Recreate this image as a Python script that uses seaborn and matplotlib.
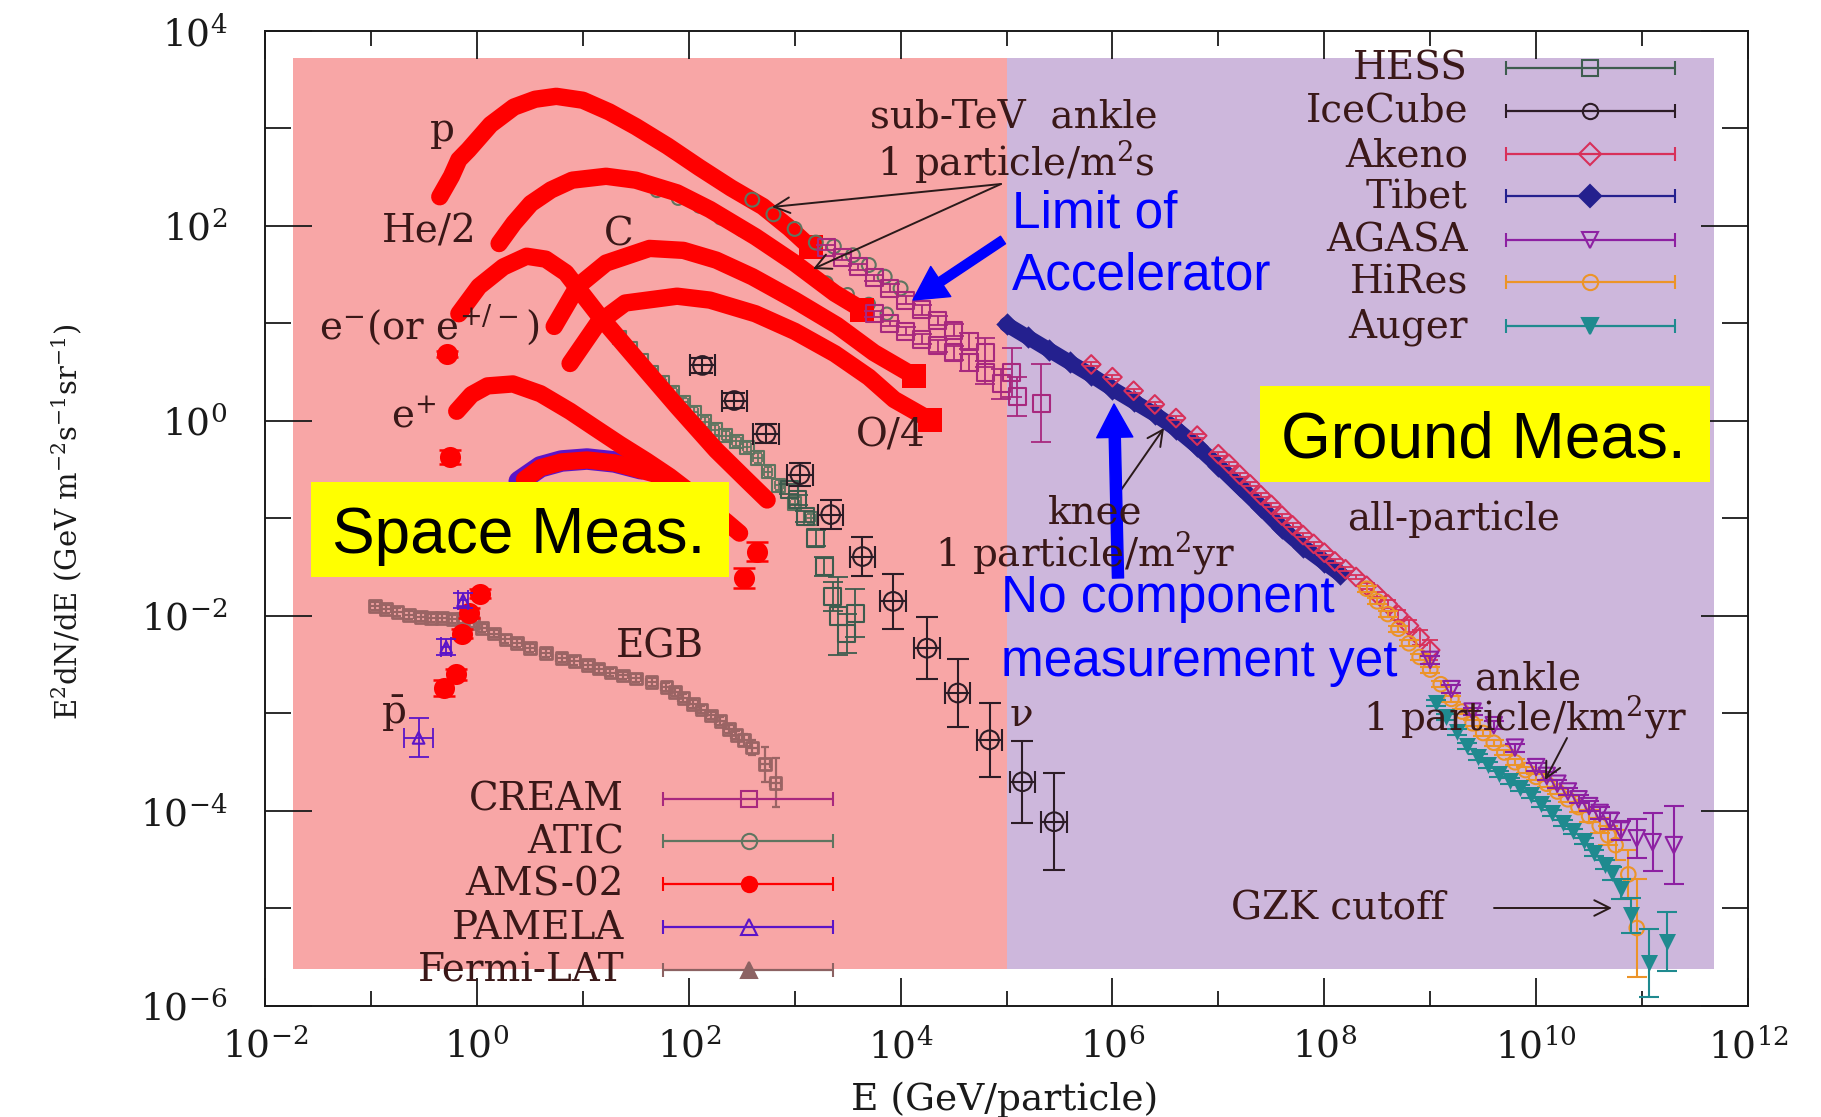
import numpy as np
import pandas as pd
import seaborn as sns
import matplotlib
matplotlib.use("Agg")
import matplotlib.pyplot as plt
from matplotlib.patches import Rectangle, FancyArrowPatch, ArrowStyle
from matplotlib.ticker import FixedLocator, FuncFormatter, NullFormatter

# ---------------- data: log10 E (GeV) and log10 E^2 dN/dE ----------------
# AMS-02 (dense bands)
ams_p_logE = [-0.35, -0.24, -0.17, -0.08, 0.13, 0.35, 0.55, 0.75, 1.0, 1.25, 1.5, 1.8, 2.1, 2.4, 2.7, 2.95, 3.15]
ams_p_logF = [2.30, 2.51, 2.68, 2.78, 3.04, 3.22, 3.30, 3.33, 3.29, 3.17, 3.02, 2.82, 2.60, 2.39, 2.20, 1.98, 1.78]
ams_he_logE = [0.21, 0.35, 0.51, 0.70, 0.90, 1.22, 1.50, 1.89, 2.20, 2.63, 3.00, 3.38, 3.64]
ams_he_logF = [1.82, 2.03, 2.23, 2.37, 2.47, 2.51, 2.47, 2.34, 2.17, 1.89, 1.62, 1.31, 1.14]
ams_c_logE = [0.73, 0.95, 1.22, 1.63, 1.95, 2.26, 2.60, 3.00, 3.40, 3.75, 4.13]
ams_c_logF = [0.97, 1.38, 1.62, 1.77, 1.75, 1.65, 1.48, 1.24, 0.98, 0.70, 0.46]
ams_o_logE = [0.88, 1.14, 1.40, 1.89, 2.20, 2.63, 3.00, 3.38, 3.70, 3.94, 4.28]
ams_o_logF = [0.59, 1.00, 1.21, 1.28, 1.24, 1.10, 0.92, 0.69, 0.45, 0.22, 0.01]
ams_em_logE = [-0.17, 0.02, 0.25, 0.47, 0.65, 0.84, 1.14, 1.51, 1.89, 2.26, 2.56, 2.74]
ams_em_logF = [1.10, 1.38, 1.58, 1.69, 1.66, 1.52, 1.10, 0.63, 0.15, -0.30, -0.62, -0.81]
ams_ep_logE = [-0.19, -0.05, 0.10, 0.34, 0.60, 0.88, 1.10, 1.35, 1.60, 1.82, 2.00, 2.20, 2.35, 2.48]
ams_ep_logF = [0.10, 0.27, 0.36, 0.38, 0.28, 0.10, -0.06, -0.24, -0.41, -0.57, -0.72, -0.91, -1.03, -1.15]
ams_pbar_logE = [0.45, 0.60, 0.80, 1.04, 1.30, 1.67, 2.00, 2.30]
ams_pbar_logF = [-0.60, -0.48, -0.42, -0.40, -0.43, -0.54, -0.72, -0.95]
# AMS-02 isolated points
ams_pts_logE = [-0.28, -0.25, -0.31, -0.20, -0.14, -0.07, 0.03, 2.52, 2.64]
ams_pts_logF = [0.69, -0.37, -2.74, -2.60, -2.18, -1.97, -1.77, -1.61, -1.34]
ams_pts_err = [0.03, 0.07, 0.08, 0.06, 0.05, 0.05, 0.05, 0.10, 0.10]

# PAMELA
pamela_pbar_logE = [0.40, 0.60, 0.80, 1.04, 1.30, 1.55]
pamela_pbar_logF = [-0.62, -0.47, -0.41, -0.39, -0.42, -0.49]
pamela_pts_logE = [-0.55, -0.29, -0.13]
pamela_pts_logF = [-3.25, -2.32, -1.84]
pamela_pts_err = [0.20, 0.08, 0.08]
pamela_pts_xerr = [0.14, 0.05, 0.05]

# Fermi-LAT extragalactic gamma background
egb_logE = [-0.96, -0.86, -0.75, -0.64, -0.53, -0.43, -0.33, -0.23, -0.13, -0.03, 0.05, 0.16, 0.27, 0.38,
            0.50, 0.65, 0.80, 0.92, 1.05, 1.15, 1.26, 1.38, 1.50, 1.65, 1.79, 1.87, 1.95, 2.04, 2.12,
            2.21, 2.30, 2.38, 2.45, 2.52, 2.60, 2.72, 2.82]
egb_logF = [-1.90, -1.93, -1.96, -1.99, -2.01, -2.02, -2.02, -2.03, -2.03, -2.07, -2.12, -2.18, -2.24, -2.28,
            -2.33, -2.38, -2.43, -2.46, -2.50, -2.54, -2.58, -2.61, -2.64, -2.68, -2.73, -2.78, -2.84, -2.90,
            -2.96, -3.02, -3.08, -3.16, -3.22, -3.27, -3.35, -3.52, -3.71]
egb_err = [0.04] * 33 + [0.06, 0.08, 0.18, 0.25]

# ATIC
atic_p_logE = [2.6, 2.8, 3.0, 3.2, 3.37, 3.55, 3.7, 3.85, 4.0]
atic_p_logF = [2.27, 2.12, 1.97, 1.83, 1.79, 1.70, 1.60, 1.48, 1.36]
atic_he_logE = [1.7, 1.9, 2.1, 2.3, 2.5, 2.7, 2.9, 3.1, 3.3, 3.5, 3.7, 3.87]
atic_he_logF = [2.36, 2.28, 2.20, 2.08, 1.96, 1.83, 1.70, 1.55, 1.42, 1.30, 1.20, 1.10]
ee_logE = [1.35, 1.45, 1.55, 1.65, 1.75, 1.85, 1.95, 2.05, 2.15, 2.25, 2.35, 2.45, 2.55, 2.65, 2.75, 2.85, 3.0, 3.15]
ee_logF = [0.86, 0.74, 0.62, 0.50, 0.39, 0.29, 0.19, 0.09, -0.01, -0.09, -0.15, -0.21, -0.27, -0.38, -0.52, -0.66, -0.85, -1.00]

# CREAM
cream_p_logE = [3.3, 3.45, 3.6, 3.75, 3.9, 4.05, 4.2, 4.35, 4.5, 4.65, 4.8, 5.05, 5.33]
cream_p_logF = [1.78, 1.68, 1.58, 1.47, 1.36, 1.24, 1.14, 1.03, 0.93, 0.82, 0.70, 0.50, 0.18]
cream_p_err = [0.03, 0.03, 0.03, 0.03, 0.04, 0.04, 0.05, 0.05, 0.06, 0.08, 0.15, 0.25, 0.40]
cream_he_logE = [3.75, 3.9, 4.05, 4.2, 4.35, 4.5, 4.65, 4.8, 4.95, 5.1]
cream_he_logF = [1.10, 1.00, 0.92, 0.84, 0.77, 0.70, 0.60, 0.50, 0.38, 0.25]
cream_he_err = [0.03, 0.03, 0.04, 0.05, 0.06, 0.07, 0.09, 0.12, 0.15, 0.20]

# HESS electrons
hess_logE = [2.95, 3.03, 3.10, 3.20, 3.28, 3.36, 3.41, 3.49, 3.57]
hess_logF = [-0.70, -0.81, -0.98, -1.20, -1.49, -1.80, -2.00, -2.18, -1.97]
hess_err = [0.05, 0.05, 0.06, 0.08, 0.10, 0.15, 0.40, 0.20, 0.25]

# IceCube neutrinos
icecube_logE = [2.13, 2.43, 2.73, 3.05, 3.34, 3.64, 3.93, 4.25, 4.54, 4.84, 5.15, 5.45]
icecube_logF = [0.57, 0.21, -0.13, -0.55, -0.96, -1.39, -1.85, -2.33, -2.79, -3.27, -3.70, -4.11]
icecube_err = [0.08, 0.08, 0.10, 0.12, 0.15, 0.20, 0.28, 0.32, 0.35, 0.38, 0.42, 0.50]
icecube_xerr = [0.12] * 12

# Ground based
tibet_logE = [5.0, 5.2, 5.4, 5.6, 5.8, 6.0, 6.2, 6.4, 6.6, 6.8, 7.0, 7.2, 7.4, 7.6, 7.8, 8.0, 8.15]
tibet_logF = [0.99, 0.86, 0.73, 0.60, 0.47, 0.33, 0.20, 0.07, -0.08, -0.26, -0.46, -0.67, -0.88, -1.10, -1.29, -1.45, -1.57]
akeno_logE = [5.8, 6.0, 6.2, 6.4, 6.6, 6.8, 7.0, 7.1, 7.2, 7.3, 7.4, 7.5, 7.6, 7.7, 7.8, 7.9, 8.0, 8.1, 8.2,
              8.3, 8.4, 8.5, 8.6, 8.7, 8.8, 8.9, 9.0]
akeno_logF = [0.58, 0.45, 0.31, 0.17, 0.03, -0.15, -0.34, -0.44, -0.55, -0.65, -0.76, -0.86, -0.97, -1.07, -1.17,
              -1.26, -1.35, -1.44, -1.52, -1.60, -1.69, -1.78, -1.88, -1.99, -2.10, -2.22, -2.35]
akeno_err = [0.02] * 20 + [0.03, 0.03, 0.04, 0.05, 0.06, 0.08, 0.10]
hires_logE = [8.4, 8.5, 8.6, 8.7, 8.8, 8.9, 9.0, 9.1, 9.2, 9.3, 9.4, 9.5, 9.6, 9.7, 9.8, 9.9, 10.0, 10.1, 10.2,
              10.3, 10.4, 10.5, 10.6, 10.68, 10.75, 10.87, 10.95]
hires_logF = [-1.72, -1.85, -1.98, -2.13, -2.28, -2.42, -2.55, -2.70, -2.85, -2.98, -3.10, -3.20, -3.30, -3.40,
              -3.50, -3.58, -3.65, -3.72, -3.80, -3.88, -3.96, -4.05, -4.15, -4.25, -4.35, -4.65, -5.20]
hires_err = [0.03] * 20 + [0.05, 0.06, 0.08, 0.10, 0.15, 0.25, 0.50]
auger_logE = [9.05, 9.15, 9.25, 9.35, 9.45, 9.55, 9.65, 9.75, 9.85, 9.95, 10.05, 10.15, 10.25, 10.35, 10.45,
              10.55, 10.65, 10.72, 10.8, 10.9, 11.07, 11.24]
auger_logF = [-2.89, -3.04, -3.19, -3.33, -3.45, -3.53, -3.62, -3.69, -3.76, -3.84, -3.93, -4.02, -4.12,
              -4.21, -4.31, -4.43, -4.55, -4.64, -4.80, -5.07, -5.56, -5.34]
auger_err = [0.03] * 16 + [0.05, 0.07, 0.10, 0.18, 0.35, 0.30]
agasa_logE = [9.0, 9.2, 9.4, 9.6, 9.8, 10.0, 10.1, 10.2, 10.3, 10.4, 10.5, 10.6, 10.7, 10.8, 10.95, 11.1, 11.3]
agasa_logF = [-2.45, -2.75, -2.98, -3.12, -3.35, -3.55, -3.64, -3.72, -3.80, -3.88, -3.95, -4.02, -4.10,
              -4.20, -4.28, -4.32, -4.35]
agasa_err = [0.04] * 10 + [0.05, 0.06, 0.08, 0.10, 0.20, 0.30, 0.40]

# ---------------- figure ----------------
sns.set_theme(style="ticks")
plt.rcParams["font.family"] = ["DejaVu Serif"]
plt.rcParams["mathtext.fontset"] = "dejavuserif"

W, H = 1821, 1117
fig = plt.figure(figsize=(W / 100, H / 100), dpi=100)
fig.patch.set_facecolor("white")
L, R, T, B = 265, 1748, 31, 1006
ax = fig.add_axes([L / W, 1 - B / H, (R - L) / W, (B - T) / H])
ax.set_facecolor("white")
ax.set_xscale("log")
ax.set_yscale("log")
ax.set_xlim(1e-2, 1e12)
ax.set_ylim(1e-6, 1e4)

TXT = "#3a1818"

# background regions
ax.add_patch(Rectangle((10 ** -1.736, 10 ** -5.618), 1e5 - 10 ** -1.736, 10 ** 3.724 - 10 ** -5.618,
                       facecolor="#f8a6a6", edgecolor="none", zorder=0.5))
ax.add_patch(Rectangle((1e5, 10 ** -5.618), 10 ** 11.68 - 1e5, 10 ** 3.724 - 10 ** -5.618,
                       facecolor="#cdb7dc", edgecolor="none", zorder=0.5))


def lin(a):
    return 10 ** np.asarray(a, dtype=float)


def dex(logF, err):
    lf = np.asarray(logF, dtype=float)
    e = np.asarray(err, dtype=float)
    return np.vstack([10 ** lf - 10 ** (lf - e), 10 ** (lf + e) - 10 ** lf])


def band(logE, logF, color, lw, z=3):
    sns.lineplot(x=lin(logE), y=lin(logF), ax=ax, color=color, lw=lw, sort=False,
                 estimator=None, solid_capstyle="round", solid_joinstyle="round", zorder=z)


def points(logE, logF, color, marker, s, filled=False, err=None, xerr=None, z=4, cap=4, elw=1.3, mlw=1.5):
    x, y = lin(logE), lin(logF)
    if err is not None or xerr is not None:
        ye = dex(logF, err) if err is not None else None
        xe = dex(logE, xerr) if xerr is not None else None
        ax.errorbar(x, y, yerr=ye, xerr=xe, fmt="none", ecolor=color, elinewidth=elw,
                    capsize=cap, capthick=elw, zorder=z)
    if filled:
        sns.scatterplot(x=x, y=y, ax=ax, color=color, marker=marker, s=s, linewidth=0, zorder=z + 0.1)
    else:
        sns.scatterplot(x=x, y=y, ax=ax, color=color, marker=marker, s=s, facecolors="none",
                        edgecolors=color, linewidth=mlw, zorder=z + 0.1)


C_CREAM, C_ATIC, C_AMS, C_PAM, C_FERMI = "#a8287e", "#5f7560", "#ff0000", "#5b14c8", "#8c6262"
C_EGB = "#9a6464"
C_HESS, C_ICE, C_AKENO, C_TIBET = "#3d5c4e", "#2c1c26", "#d8305a", "#24208e"
C_AGASA, C_HIRES, C_AUGER = "#8d20a2", "#ec9428", "#1f8a8f"

# space measurements
points(atic_he_logE, atic_he_logF, C_ATIC, "o", 80, z=2.5)
points(ee_logE, ee_logF, C_ATIC, "s", 90, err=[0.05] * 18, xerr=[0.04] * 18, z=2.5, cap=3)
points(egb_logE, egb_logF, C_EGB, "s", 70, err=egb_err, xerr=[0.05] * 37, z=2.5, cap=3, elw=1.6, mlw=2)
band(pamela_pbar_logE, pamela_pbar_logF, C_PAM, 15.5, z=2.8)
for lE, lF in [(ams_p_logE, ams_p_logF), (ams_he_logE, ams_he_logF), (ams_c_logE, ams_c_logF),
               (ams_o_logE, ams_o_logF), (ams_em_logE, ams_em_logF), (ams_ep_logE, ams_ep_logF),
               (ams_pbar_logE, ams_pbar_logF)]:
    band(lE, lF, C_AMS, 12.5)
sns.scatterplot(x=lin([ams_p_logE[-1], ams_he_logE[-1], ams_c_logE[-1], ams_o_logE[-1]]),
                y=lin([ams_p_logF[-1], ams_he_logF[-1], ams_c_logF[-1], ams_o_logF[-1]]),
                ax=ax, color=C_AMS, marker="s", s=300, linewidth=0, zorder=3.2)
points(ams_pts_logE, ams_pts_logF, C_AMS, "o", 230, filled=True, err=ams_pts_err, z=3.3, cap=8, elw=1.8)
points(pamela_pts_logE, pamela_pts_logF, C_PAM, "^", 70, err=pamela_pts_err, xerr=pamela_pts_xerr, z=3.4, cap=7)
points(atic_p_logE, atic_p_logF, C_ATIC, "o", 100, z=3.5)
points(cream_he_logE, cream_he_logF, C_CREAM, "s", 150, err=cream_he_err, z=3.6, cap=7)
points(cream_p_logE, cream_p_logF, C_CREAM, "s", 150, err=cream_p_err, z=3.6, cap=7)
points(hess_logE, hess_logF, C_HESS, "s", 150, err=hess_err, z=3.6, cap=7)
points(icecube_logE, icecube_logF, C_ICE, "o", 180, err=icecube_err, xerr=icecube_xerr, z=3.7, cap=8, elw=1.5)

# ground measurements
band(tibet_logE, tibet_logF, C_TIBET, 11, z=3.8)
points(tibet_logE, tibet_logF, C_TIBET, "D", 130, filled=True, z=3.8)
points(akeno_logE, akeno_logF, C_AKENO, "D", 90, err=akeno_err, z=3.9, cap=6)
points(hires_logE, hires_logF, C_HIRES, "o", 110, err=hires_err, z=4.0, cap=7, elw=1.5)
points(agasa_logE, agasa_logF, C_AGASA, "v", 140, err=agasa_err, z=4.1, cap=7, elw=1.5)
points(auger_logE, auger_logF, C_AUGER, "v", 150, filled=True, err=auger_err, z=4.2, cap=7, elw=1.5)

# axes styling
ax.xaxis.set_major_locator(FixedLocator(10.0 ** np.arange(-2, 13, 2)))
ax.xaxis.set_minor_locator(FixedLocator(10.0 ** np.arange(-1, 12, 2)))
ax.yaxis.set_major_locator(FixedLocator(10.0 ** np.arange(-6, 5, 2)))
ax.yaxis.set_minor_locator(FixedLocator(10.0 ** np.arange(-5, 4, 2)))
fmt = FuncFormatter(lambda v, p: r"$\mathregular{10^{%d}}$" % int(round(np.log10(v))))
ax.xaxis.set_major_formatter(fmt)
ax.yaxis.set_major_formatter(fmt)
ax.xaxis.set_minor_formatter(NullFormatter())
ax.yaxis.set_minor_formatter(NullFormatter())
ax.tick_params(which="both", direction="in", top=True, right=True, colors="#1a1a1a", width=1.3)
ax.tick_params(axis="x", which="major", length=20, pad=16, labelsize=27)
ax.tick_params(axis="x", which="minor", length=11)
ax.tick_params(axis="y", which="major", length=34, pad=27, labelsize=27)
ax.tick_params(axis="y", which="minor", length=19)
for s in ax.spines.values():
    s.set_linewidth(1.4)
    s.set_color("#1a1a1a")
ax.set_xlabel("E (GeV/particle)", fontsize=27, color="#1a1a1a")
ax.xaxis.set_label_coords((1004.6 - L) / (R - L), (B - 1082) / (B - T))
ax.set_ylabel(r"E$^{2}$dN/dE (GeV m$^{-2}$s$^{-1}$sr$^{-1}$)", fontsize=21, color="#1a1a1a")
ax.yaxis.set_label_coords((84 - L) / (R - L), (B - 522) / (B - T))

# ---------------- overlay in reference pixel coordinates ----------------
ov = fig.add_axes([0, 0, 1, 1])
ov.set_xlim(0, W)
ov.set_ylim(H, 0)
ov.axis("off")
ov.patch.set_alpha(0)
ov.set_zorder(5)

labels = [
    ("p", 442, 141), ("He/2", 429, 243), ("C", 619, 246),
    (r"e$^{-}$(or e$^{+/-}$)", 429, 338), (r"e$^{+}$", 414, 427), ("O/4", 891, 447),
    ("sub-TeV  ankle", 1014, 127), (r"1 particle/m$^{2}$s", 1016, 175),
    ("knee", 1095, 524), (r"1 particle/m$^{2}$yr", 1085, 566), ("all-particle", 1454, 530),
    ("EGB", 660, 657), (r"$\bar{\mathrm{p}}$", 393, 724), ("ν", 1021, 726),
    ("ankle", 1528, 689), (r"1 particle/km$^{2}$yr", 1525, 730), ("GZK cutoff", 1338, 919),
]
for s, x, y in labels:
    ov.text(x, y, s, ha="center", va="baseline", fontsize=28, color=TXT)

thin = dict(arrowstyle="->", color="#2a1a1a", lw=1.4, mutation_scale=28, shrinkA=0, shrinkB=0)
for (x0, y0), (x1, y1) in [((1001, 184), (772, 207)), ((1001, 184), (813, 269)),
                           ((1121, 490), (1164, 428)), ((1567, 738), (1545, 780)),
                           ((1494, 908), (1612, 908))]:
    ov.add_patch(FancyArrowPatch((x0, y0), (x1, y1), **thin))

# legends
left_leg = [("CREAM", C_CREAM, "s", False), ("ATIC", C_ATIC, "o", False), ("AMS-02", C_AMS, "o", True),
            ("PAMELA", C_PAM, "^", False), ("Fermi-LAT", C_FERMI, "^", True)]
left_y = [798.7, 841, 884, 927, 970]
right_leg = [("HESS", C_HESS, "s", False), ("IceCube", C_ICE, "o", False), ("Akeno", C_AKENO, "D", False),
             ("Tibet", C_TIBET, "D", True), ("AGASA", C_AGASA, "v", False), ("HiRes", C_HIRES, "o", False),
             ("Auger", C_AUGER, "v", True)]
right_y = [67.9, 110.7, 154.3, 196.4, 240, 282, 325.7]


def legend(entries, ys, xr, x0, xm, x1):
    for (name, c, m, filled), yc in zip(entries, ys):
        ov.text(xr, yc + 12, name, ha="right", va="baseline", fontsize=28, color=TXT)
        ov.errorbar([xm], [yc], xerr=[[xm - x0], [x1 - xm]], fmt=m, color=c, ms=11,
                    mfc=c if filled else "none", mec=c, mew=1.5, elinewidth=1.6,
                    capsize=5, capthick=1.6)


legend(left_leg, left_y, 624, 663, 749, 833)
legend(right_leg, right_y, 1468, 1506, 1590, 1675)

# yellow boxes
SANS = ["Liberation Sans", "DejaVu Sans"]
ov.add_patch(Rectangle((311, 482), 418, 95, facecolor="#ffff00", edgecolor="none"))
ov.text(519, 553, "Space Meas.", ha="center", va="baseline", fontsize=46, color="black", family=SANS)
ov.add_patch(Rectangle((1260, 386), 450, 96, facecolor="#ffff00", edgecolor="none"))
ov.text(1483, 457, "Ground Meas.", ha="center", va="baseline", fontsize=46, color="black", family=SANS)

# blue annotations
BLUE = "#0000ff"
ov.text(1012, 227, "Limit of", ha="left", va="baseline", fontsize=37, color=BLUE, family=SANS)
ov.text(1012, 289, "Accelerator", ha="left", va="baseline", fontsize=37, color=BLUE, family=SANS)
ov.text(1001, 612, "No component", ha="left", va="baseline", fontsize=37, color=BLUE, family=SANS)
ov.text(1001, 676, "measurement yet", ha="left", va="baseline", fontsize=37, color=BLUE, family=SANS)
ov.add_patch(FancyArrowPatch((1003, 240), (913, 300), shrinkA=0, shrinkB=0, mutation_scale=1, color=BLUE,
                             arrowstyle=ArrowStyle.Simple(head_length=24, head_width=26, tail_width=6.5)))
ov.add_patch(FancyArrowPatch((1118, 578), (1114, 404), shrinkA=0, shrinkB=0, mutation_scale=1, color=BLUE,
                             arrowstyle=ArrowStyle.Simple(head_length=24, head_width=26, tail_width=8)))

fig.savefig("out.png", dpi=100, facecolor="white")
